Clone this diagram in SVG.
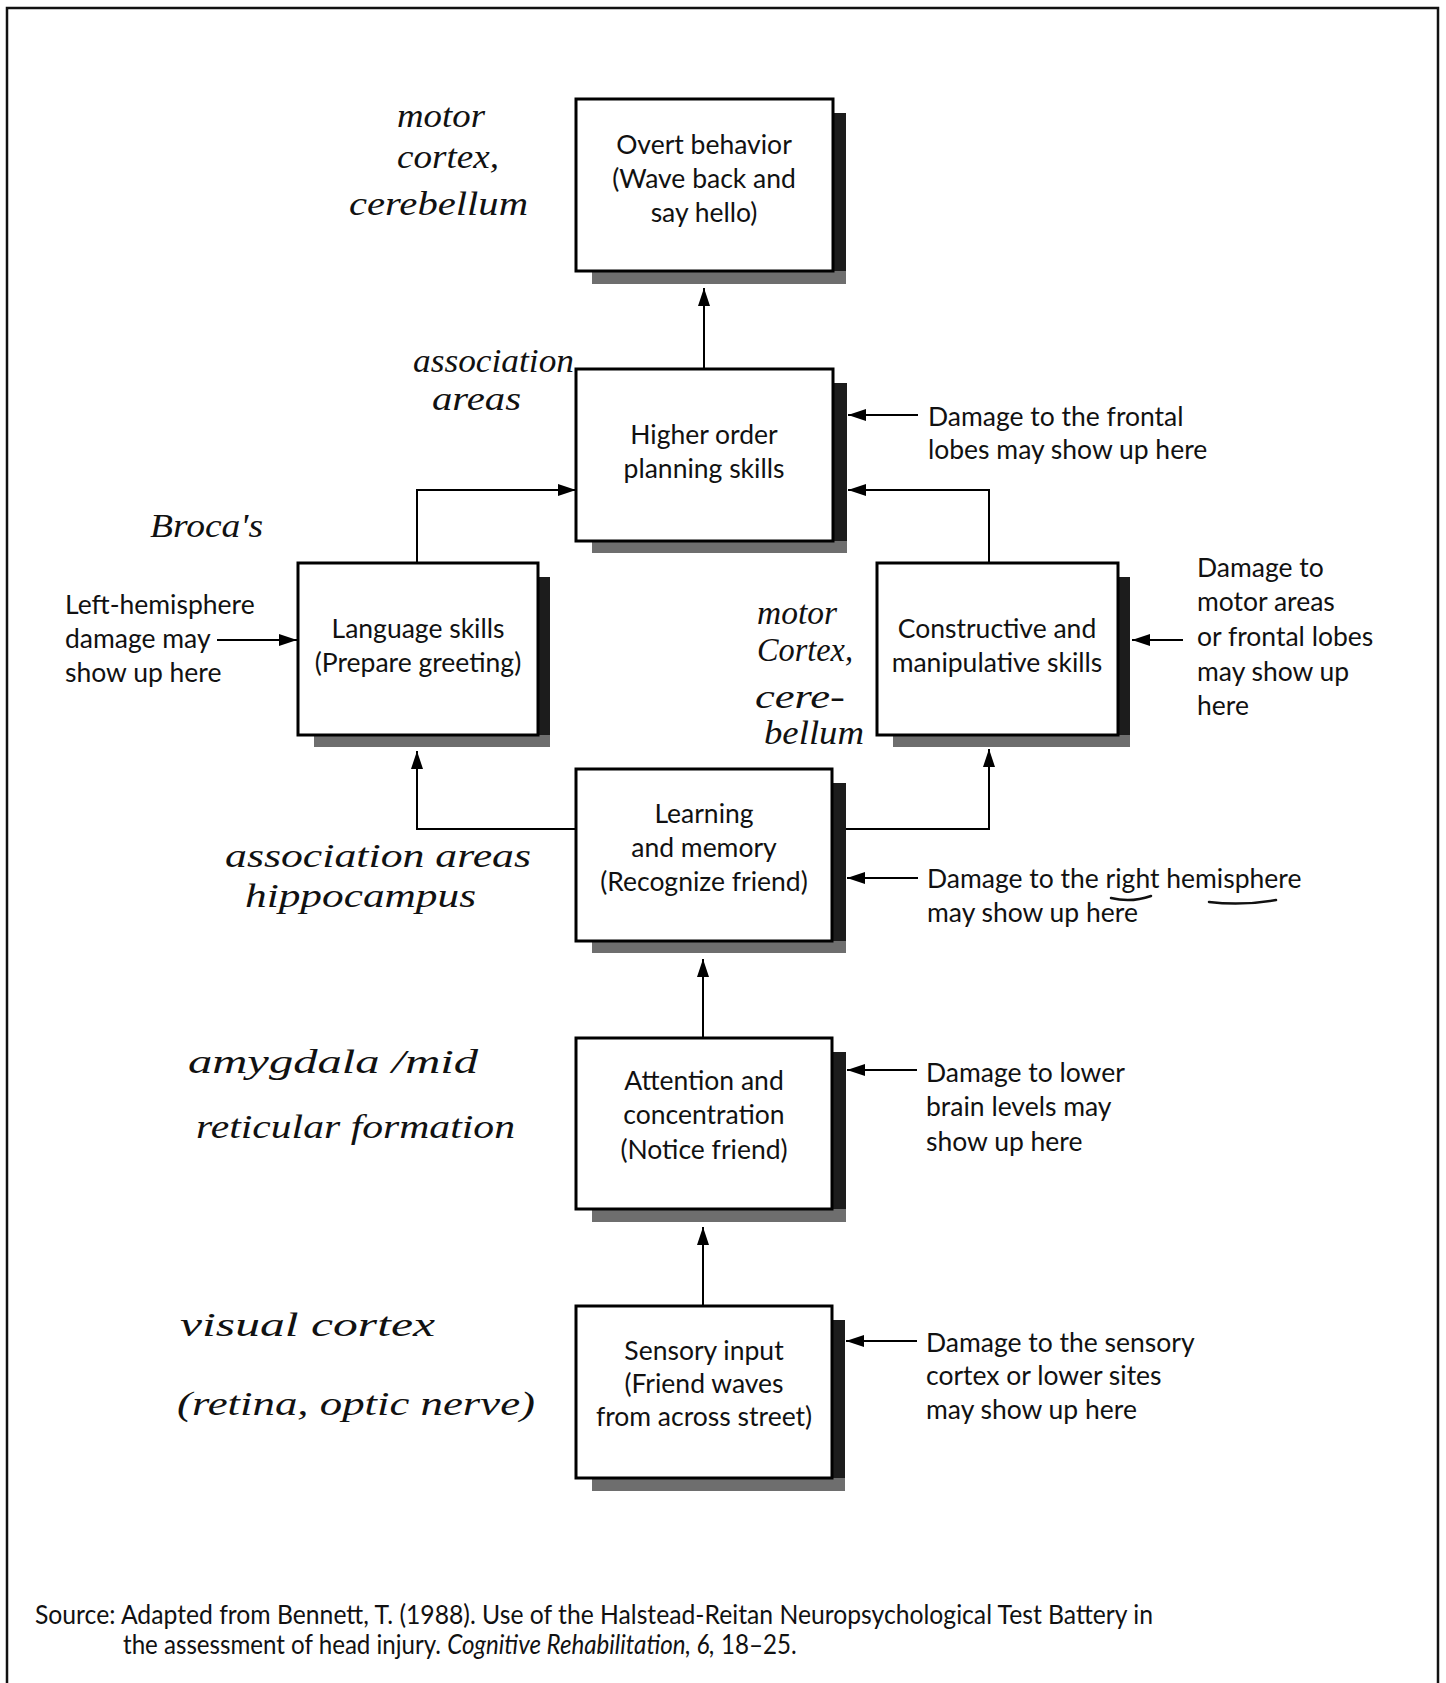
<svg xmlns="http://www.w3.org/2000/svg" width="1446" height="1683" viewBox="0 0 1446 1683">
<defs>
<style>
.frame{fill:none;stroke:#111;stroke-width:2.5}
.box{fill:#fff;stroke:#000;stroke-width:3}
.shR{fill:#1c1c1c}
.shB{fill:#6e6e6e}
.t{font-family:Lato,"Open Sans","Liberation Sans",sans-serif;font-size:26.5px;fill:#111}
.c{text-anchor:middle}
.hw{font-family:"Liberation Serif","DejaVu Serif",serif;font-style:italic;font-size:34px;fill:#111}
.ln{fill:none;stroke:#000;stroke-width:2}
.ul{fill:none;stroke:#111;stroke-width:2.5;stroke-linecap:round}
</style>
<marker id="ah" viewBox="0 0 18 12" refX="18" refY="6" markerWidth="18" markerHeight="12" markerUnits="userSpaceOnUse" orient="auto">
<path d="M0,0 L18,6 L0,12 z" fill="#000"/>
</marker>
</defs>
<rect width="1446" height="1683" fill="#fff"/>
<path class="frame" d="M7,1690 V8 H1438 V1690"/>

<g id="overt">
<rect class="shR" x="833" y="113" width="13" height="171"/>
<rect class="shB" x="592" y="271" width="254" height="13"/>
<rect class="box" x="576" y="99" width="257" height="172"/>
<text class="t c" x="704" y="154">Overt behavior</text>
<text class="t c" x="704" y="188">(Wave back and</text>
<text class="t c" x="704" y="222">say hello)</text>
</g>

<g id="higher">
<rect class="shR" x="833" y="383" width="14" height="170"/>
<rect class="shB" x="592" y="541" width="255" height="12"/>
<rect class="box" x="576" y="369" width="257" height="172"/>
<text class="t c" x="704" y="444">Higher order</text>
<text class="t c" x="704" y="478">planning skills</text>
</g>

<g id="language">
<rect class="shR" x="538" y="577" width="12" height="170"/>
<rect class="shB" x="314" y="735" width="236" height="12"/>
<rect class="box" x="298" y="563" width="240" height="172"/>
<text class="t c" x="418" y="638">Language skills</text>
<text class="t c" x="418" y="672">(Prepare greeting)</text>
</g>

<g id="constructive">
<rect class="shR" x="1118" y="577" width="12" height="170"/>
<rect class="shB" x="893" y="735" width="237" height="12"/>
<rect class="box" x="877" y="563" width="241" height="172"/>
<text class="t c" x="997" y="638">Constructive and</text>
<text class="t c" x="997" y="672">manipulative skills</text>
</g>

<g id="learning">
<rect class="shR" x="832" y="783" width="14" height="170"/>
<rect class="shB" x="592" y="941" width="254" height="12"/>
<rect class="box" x="576" y="769" width="256" height="172"/>
<text class="t c" x="704" y="823">Learning</text>
<text class="t c" x="704" y="857">and memory</text>
<text class="t c" x="704" y="891">(Recognize friend)</text>
</g>

<g id="attention">
<rect class="shR" x="832" y="1052" width="14" height="170"/>
<rect class="shB" x="592" y="1209" width="254" height="13"/>
<rect class="box" x="576" y="1038" width="256" height="171"/>
<text class="t c" x="704" y="1090">Attention and</text>
<text class="t c" x="704" y="1124">concentration</text>
<text class="t c" x="704" y="1159">(Notice friend)</text>
</g>

<g id="sensory">
<rect class="shR" x="832" y="1320" width="13" height="171"/>
<rect class="shB" x="592" y="1478" width="253" height="13"/>
<rect class="box" x="576" y="1306" width="256" height="172"/>
<text class="t c" x="704" y="1360">Sensory input</text>
<text class="t c" x="704" y="1393">(Friend waves</text>
<text class="t c" x="704" y="1426">from across street)</text>
</g>

<g id="connectors">
<path class="ln" d="M704,369 V288" marker-end="url(#ah)"/>
<path class="ln" d="M417,563 V490 H576" marker-end="url(#ah)"/>
<path class="ln" d="M989,563 V490 H848" marker-end="url(#ah)"/>
<path class="ln" d="M576,829 H417 V751" marker-end="url(#ah)"/>
<path class="ln" d="M846,829 H989 V749" marker-end="url(#ah)"/>
<path class="ln" d="M703,1038 V959" marker-end="url(#ah)"/>
<path class="ln" d="M703,1306 V1227" marker-end="url(#ah)"/>
<path class="ln" d="M918,415 H848" marker-end="url(#ah)"/>
<path class="ln" d="M1183,640 H1132" marker-end="url(#ah)"/>
<path class="ln" d="M217,640 H297" marker-end="url(#ah)"/>
<path class="ln" d="M918,878 H847" marker-end="url(#ah)"/>
<path class="ln" d="M917,1070 H847" marker-end="url(#ah)"/>
<path class="ln" d="M917,1341 H846" marker-end="url(#ah)"/>
</g>

<g id="damage-labels">
<text class="t" x="928" y="426">Damage to the frontal</text>
<text class="t" x="928" y="459">lobes may show up here</text>
<text class="t" x="65" y="614">Left-hemisphere</text>
<text class="t" x="65" y="648">damage may</text>
<text class="t" x="65" y="682">show up here</text>
<text class="t" x="1197" y="577">Damage to</text>
<text class="t" x="1197" y="611">motor areas</text>
<text class="t" x="1197" y="646">or frontal lobes</text>
<text class="t" x="1197" y="681">may show up</text>
<text class="t" x="1197" y="715">here</text>
<text class="t" x="927" y="888">Damage to the right hemisphere</text>
<text class="t" x="927" y="922">may show up here</text>
<text class="t" x="926" y="1082">Damage to lower</text>
<text class="t" x="926" y="1116">brain levels may</text>
<text class="t" x="926" y="1151">show up here</text>
<text class="t" x="926" y="1352">Damage to the sensory</text>
<text class="t" x="926" y="1385">cortex or lower sites</text>
<text class="t" x="926" y="1419">may show up here</text>
</g>

<g id="handwritten">
<text class="hw" x="397" y="127" textLength="88" lengthAdjust="spacingAndGlyphs">motor</text>
<text class="hw" x="397" y="168" textLength="102" lengthAdjust="spacingAndGlyphs">cortex,</text>
<text class="hw" x="349" y="215" textLength="179" lengthAdjust="spacingAndGlyphs">cerebellum</text>
<text class="hw" x="413" y="372" font-size="31" textLength="161" lengthAdjust="spacingAndGlyphs">association</text>
<text class="hw" x="432" y="410" font-size="31" textLength="89" lengthAdjust="spacingAndGlyphs">areas</text>
<text class="hw" x="150" y="537" textLength="113" lengthAdjust="spacingAndGlyphs">Broca's</text>
<text class="hw" x="757" y="624" font-size="31" textLength="80" lengthAdjust="spacingAndGlyphs">motor</text>
<text class="hw" x="757" y="661" font-size="31" textLength="96" lengthAdjust="spacingAndGlyphs">Cortex,</text>
<text class="hw" x="755" y="708" font-size="31" textLength="90" lengthAdjust="spacingAndGlyphs">cere-</text>
<text class="hw" x="764" y="744" font-size="31" textLength="100" lengthAdjust="spacingAndGlyphs">bellum</text>
<text class="hw" x="225" y="867" textLength="306" lengthAdjust="spacingAndGlyphs">association areas</text>
<text class="hw" x="245" y="907" textLength="231" lengthAdjust="spacingAndGlyphs">hippocampus</text>
<text class="hw" x="188" y="1073" textLength="290" lengthAdjust="spacingAndGlyphs">amygdala /mid</text>
<text class="hw" x="196" y="1138" textLength="319" lengthAdjust="spacingAndGlyphs">reticular formation</text>
<text class="hw" x="180" y="1336" textLength="255" lengthAdjust="spacingAndGlyphs">visual cortex</text>
<text class="hw" x="177" y="1415" textLength="358" lengthAdjust="spacingAndGlyphs">(retina, optic nerve)</text>
<path class="ul" d="M1111,898 Q1131,903 1151,896"/>
<path class="ul" d="M1209,902 Q1242,906 1276,900"/>
</g>

<g id="source">
<text class="t" x="35" y="1624" font-size="22" textLength="1118" lengthAdjust="spacingAndGlyphs">Source: Adapted from Bennett, T. (1988). Use of the Halstead-Reitan Neuropsychological Test Battery in</text>
<text class="t" font-size="22" transform="translate(123,1654) scale(0.91,1)" x="0" y="0">the assessment of head injury. <tspan font-style="italic">Cognitive Rehabilitation, 6,</tspan> 18–25.</text>
</g>
</svg>
